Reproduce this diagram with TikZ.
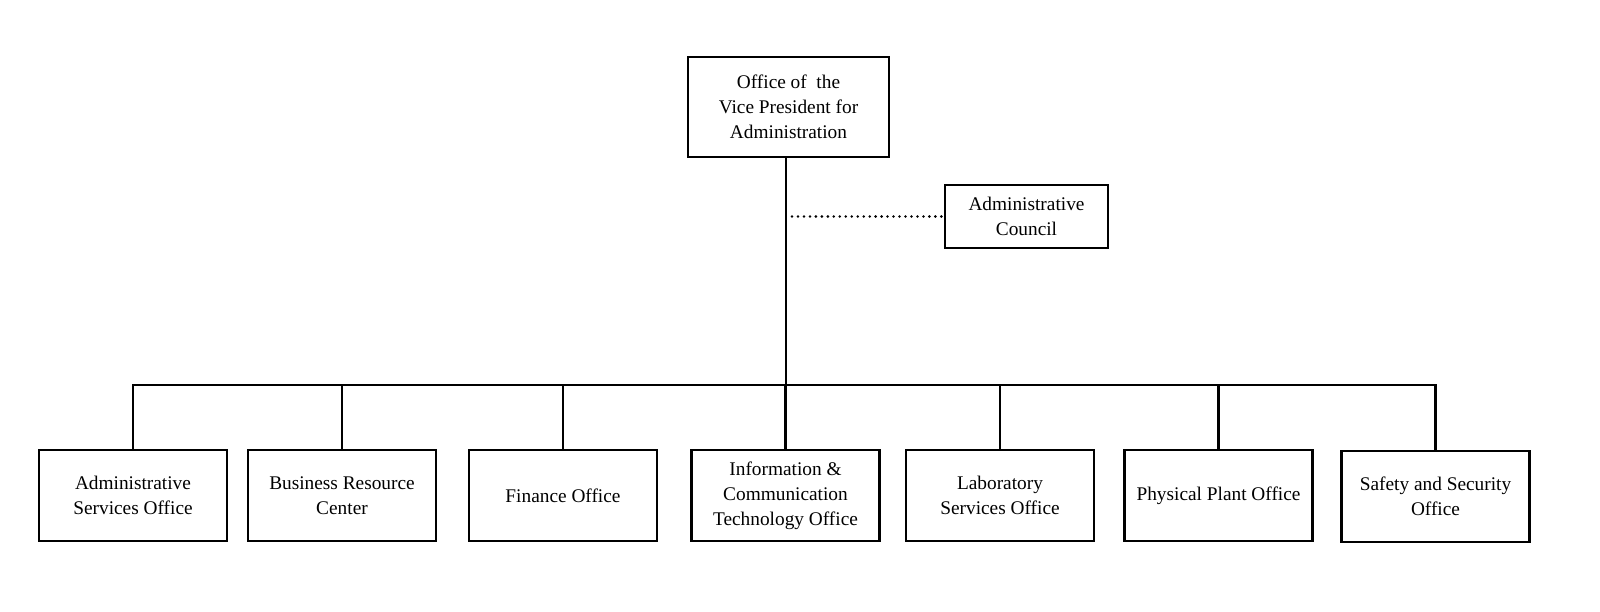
\documentclass[tikz,border=0pt]{standalone}
\usepackage{fontspec}
\setmainfont{Liberation Serif}
\usetikzlibrary{positioning}

\begin{document}
\begin{tikzpicture}[
        x=0.02cm, y=-0.02cm,
        box/.style={draw, line width=1.6pt, align=center, inner sep=0pt,
            font=\fontsize{11}{14.2}\selectfont},
        unit/.style={box, minimum width=3.76cm, minimum height=1.82cm},
        link/.style={line width=1.6pt}
    ]
    \useasboundingbox (0,0) rectangle (1600,612);

    % Top office and council
    \node[box, minimum width=4.02cm, minimum height=2cm] (vpa) at (788.5,107)
        {Office of\ \ the\\Vice President for\\Administration};
    \node[box, minimum width=3.26cm, minimum height=1.26cm] (council) at (1026.5,216.5)
        {Administrative\\Council};

    % Offices
    \node[unit] (aso) at (133,495.5) {Administrative\\Services Office};
    \node[unit] (brc) at (342,495.5) {Business Resource\\Center};
    \node[unit] (fin) at (563,495.5) {Finance Office};
    \node[unit] (ict) at (785.5,495.5) {Information \&\\Communication\\Technology Office};
    \node[unit] (lso) at (1000,495.5) {Laboratory\\Services Office};
    \node[unit] (ppo) at (1218.5,495.5) {Physical Plant Office};
    \node[unit] (sso) at (1435.5,496.5) {Safety and Security\\Office};

    % Connectors
    \coordinate (hub) at (786,385);
    \coordinate (tap) at (786,216.5);
    \draw[link] (vpa.south -| hub) -- (hub);
    \draw[line width=1.6pt, line cap=round, dash pattern=on 0pt off 3.4pt] (tap) ++(6,0) -- (council.west);
    \draw[link] (aso.north) -- (aso.north |- hub) -- (sso.north |- hub) -- (sso.north);
    \foreach \n in {brc, fin, ict, lso, ppo} {
        \draw[link] (\n.north) -- (\n.north |- hub);
    }
\end{tikzpicture}
\end{document}
